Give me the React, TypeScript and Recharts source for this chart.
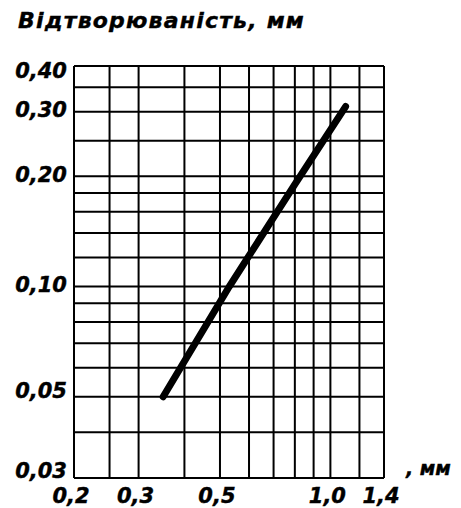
import { LineChart, Line, XAxis, YAxis, CartesianGrid } from "recharts";

// Відтворюваність залежно від розміру, лог-лог шкала
const sizeMm = [0.35, 0.53, 0.8, 1.1];
const reproMm = [0.05, 0.1, 0.19, 0.31];

const xTicks = [0.2, 0.25, 0.3, 0.4, 0.5, 0.6, 0.7, 0.8, 0.9, 1.0, 1.2, 1.4];
const yTicks = [0.03, 0.04, 0.05, 0.06, 0.07, 0.08, 0.09, 0.1, 0.12, 0.14, 0.16, 0.18, 0.2, 0.25, 0.3, 0.35, 0.4];
const xLabels = [0.2, 0.3, 0.5, 1.0, 1.4];
const yLabels = [0.03, 0.05, 0.1, 0.2, 0.3, 0.4];

const data = sizeMm.map((x, i) => ({ x, y: reproMm[i] }));

const FONT = "'DejaVu Sans', sans-serif";
const W = 453;
const H = 500;

const fmt = (v: number, digits: number) => v.toFixed(digits).replace(".", ",");

function XTick({ x, y, payload }: any) {
  const v = payload.value;
  if (!xLabels.some((l) => Math.abs(l - v) < 1e-9)) return null;
  return (
    <text x={x - 3} y={y + 25} textAnchor="middle" fontFamily={FONT} fontSize={21} fontWeight="bold" fontStyle="italic" fill="#000" stroke="#000" strokeWidth={0.4}>
      {fmt(v, 1)}
    </text>
  );
}

function YTick({ x, y, payload }: any) {
  const v = payload.value;
  if (!yLabels.some((l) => Math.abs(l - v) < 1e-9)) return null;
  // labels near the bottom sit a bit above their grid line, the top one a bit below
  const shift = v < 0.04 ? -8 : v < 0.06 ? -6 : v > 0.35 ? 4 : -2;
  return (
    <text x={x} y={y + shift} dy="0.36em" textAnchor="end" fontFamily={FONT} fontSize={21} fontWeight="bold" fontStyle="italic" fill="#000" stroke="#000" strokeWidth={0.4}>
      {fmt(v, 2)}
    </text>
  );
}

export default function App() {
  return (
    <div style={{ position: "relative", width: W, height: H }}>
      <LineChart width={W} height={H} data={data} margin={{ top: 58, right: 77, bottom: 0, left: 0 }}>
        <CartesianGrid stroke="#000" strokeWidth={2} />
        <XAxis
          dataKey="x"
          type="number"
          scale="log"
          domain={[0.2, 1.4]}
          ticks={xTicks}
          allowDataOverflow
          height={30}
          tickSize={0}
          tickMargin={0}
          tickLine={false}
          axisLine={{ stroke: "#000", strokeWidth: 2 }}
          tick={<XTick />}
          interval={0}
        />
        <YAxis
          type="number"
          scale="log"
          domain={[0.03, 0.4]}
          ticks={yTicks}
          allowDataOverflow
          width={66}
          tickSize={0}
          tickMargin={7}
          tickLine={false}
          axisLine={{ stroke: "#000", strokeWidth: 2 }}
          tick={<YTick />}
          interval={0}
        />
        <Line
          dataKey="y"
          type="linear"
          stroke="#000"
          strokeWidth={7}
          strokeLinecap="round"
          dot={false}
          isAnimationActive={false}
        />
      </LineChart>
      <svg width={W} height={H} style={{ position: "absolute", left: 0, top: 0, pointerEvents: "none" }}>
        <text x={10} y={20} fontFamily={FONT} fontSize={22} letterSpacing={1.2} fontWeight="bold" fontStyle="italic" fill="#000" stroke="#000" strokeWidth={0.4}>
          Відтворюваність, мм
        </text>
        <text x={398} y={467} fontFamily={FONT} fontSize={19} fontWeight="bold" fontStyle="italic" fill="#000" stroke="#000" strokeWidth={0.4}>
          , мм
        </text>
      </svg>
    </div>
  );
}
